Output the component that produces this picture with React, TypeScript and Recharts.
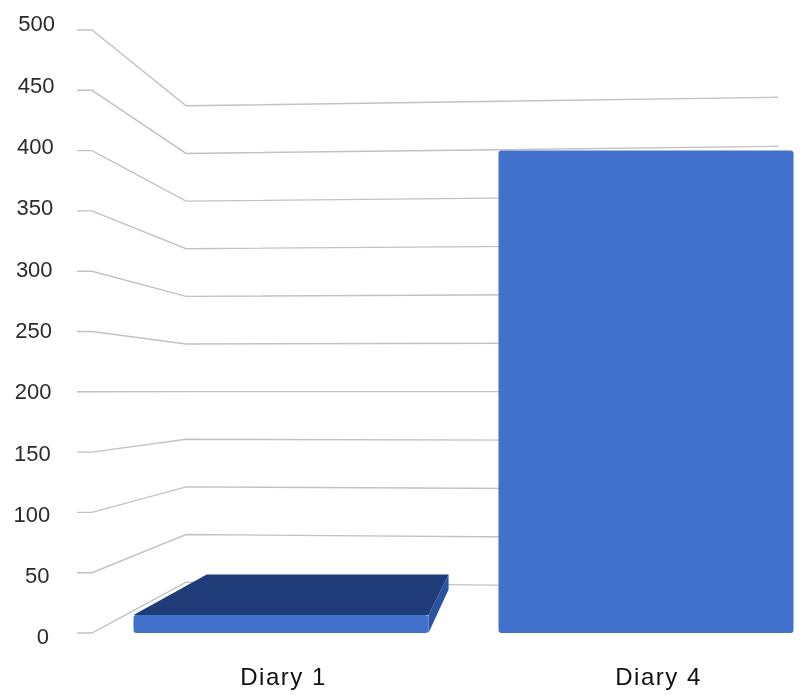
import { BarChart, Bar, XAxis, YAxis, CartesianGrid } from 'recharts';

const categories = ['Diary 1', 'Diary 4'];
const diaryValues = [15, 400];
const yTicks = [0, 50, 100, 150, 200, 250, 300, 350, 400, 450, 500];

const data = categories.map((name, i) => ({ name, value: diaryValues[i] }));

// fake 3d: vanishing point + depth factors (svg coords)
const VX = 532;
const VY = 383;
const WALL_DEPTH = 0.21;
const BAR_DEPTH = 0.18;
const PLOT_TOP = 22;
const PLOT_H = 603;

const FRONT = '#4271cc';
const TOP = '#1f3c79';
const SIDE = '#2b52a0';
const GRID = '#c2c2c2';

function gridLine(props: any) {
  const y = props.y1;
  const x0 = 69;
  const x1 = 84;
  const bx = x1 + WALL_DEPTH * (VX - x1);
  const by = y + WALL_DEPTH * (VY - y);
  const ey = VY + (by - VY) * 1.03;
  return (
    <path
      key={props.key ?? `g-${props.index}`}
      d={`M${x0},${y} L${x1},${y} L${bx},${by} L770,${ey}`}
      fill="none"
      stroke={GRID}
      strokeWidth={1.4}
    />
  );
}

function Bar3D(props: any) {
  const { x, y, width, height } = props;
  const xr = x + width;
  const yb = y + height;
  const back = (px: number, py: number) => [px + BAR_DEPTH * (VX - px), py + BAR_DEPTH * (VY - py)];
  const parts = [];
  if (xr < VX) {
    const [sx1, sy1] = back(xr, y);
    const [sx2, sy2] = back(xr, yb);
    parts.push(<polygon key="side" points={`${xr},${y} ${sx1},${sy1} ${sx2},${sy2} ${xr},${yb}`} fill={SIDE} />);
  }
  if (y > VY) {
    const [lx, ly] = back(x, y);
    const [rx, ry] = back(xr, y);
    parts.push(<polygon key="top" points={`${x},${y} ${lx},${ly} ${rx},${ry} ${xr},${y}`} fill={TOP} />);
  }
  parts.push(<rect key="front" x={x} y={y} width={width} height={height} rx={3} fill={FRONT} />);
  return <g>{parts}</g>;
}

function YTick(props: any) {
  const { y, payload } = props;
  const t = (y - PLOT_TOP) / PLOT_H;
  const cy = y - 6.5 + 10 * t;
  return (
    <text x={47 - 6 * t} y={cy + 7.9} textAnchor="end" fontSize={22} fill="#2b2b2b"
      fontFamily="Liberation Sans, Arial, sans-serif">
      {payload.value}
    </text>
  );
}

function XTick(props: any) {
  const { x, y, payload } = props;
  const dx = (x - VX) * 0.0274 + 9.6;
  return (
    <text x={x + dx} y={y} textAnchor="middle" fontSize={24} letterSpacing={1.5} fill="#111"
      fontFamily="Liberation Sans, Arial, sans-serif">
      {payload.value}
    </text>
  );
}

export default function App() {
  return (
    <div style={{ position: 'fixed', top: 8, left: 8, width: 793, height: 687, overflow: 'hidden' }}>
      <BarChart
        width={830}
        height={687}
        data={data}
        margin={{ top: PLOT_TOP, right: 9.5, left: 0, bottom: 0 }}
      >
        <CartesianGrid vertical={false} horizontal={gridLine} />
        <XAxis
          dataKey="name"
          axisLine={false}
          tickLine={false}
          tickSize={0}
          tickMargin={52}
          height={62}
          tick={<XTick />}
        />
        <YAxis
          domain={[0, 500]}
          ticks={yTicks}
          axisLine={false}
          tickLine={false}
          tickSize={0}
          width={90.5}
          tick={<YTick />}
        />
        <Bar dataKey="value" barSize={295} shape={Bar3D} isAnimationActive={false} />
      </BarChart>
    </div>
  );
}
